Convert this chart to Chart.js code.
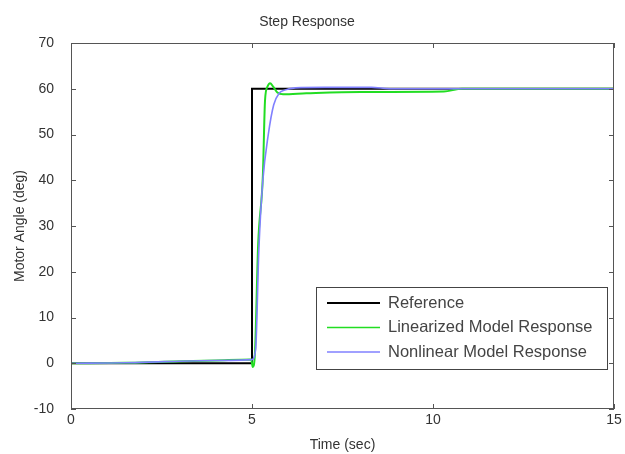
<!DOCTYPE html>
<html>
<head>
<meta charset="utf-8">
<script src="https://cdn.jsdelivr.net/npm/chart.js@4.4.1/dist/chart.umd.min.js"></script>
<style>
  body { margin: 0; background: #fff; }
  #wrap { width: 625px; height: 454px; position: relative; }
</style>
</head>
<body>
<div id="wrap"><canvas id="stepChart"></canvas></div>
<script>
// data
const refTime = [0, 5, 5, 15];
const refAngle = [0, 0, 60, 60];

const linTime = [0, 1.5, 2.6, 4.0, 4.98, 5.02, 5.08, 5.17, 5.3, 5.36, 5.43, 5.5, 5.58, 5.7, 5.86, 6.5, 8, 10.3, 10.8, 15];
const linAngle = [0, 0.1, 0.35, 0.6, 0.8, -0.8, 2, 26, 41, 57.5, 60.5, 61.2, 60.5, 59.2, 58.8, 59.0, 59.3, 59.4, 60, 60];

const nonTime = [0, 1.5, 2.6, 4.0, 5.0, 5.1, 5.19, 5.3, 5.45, 5.6, 5.75, 5.9, 6.2, 7, 8.3, 8.8, 15];
const nonAngle = [0, 0.1, 0.35, 0.6, 0.8, 3, 25, 40, 50, 56.5, 59.0, 59.7, 60.2, 60.3, 60.3, 60, 60];

const xTicks = [0, 5, 10, 15];
const yTicks = [-10, 0, 10, 20, 30, 40, 50, 60, 70];

const legendLabels = ['Reference', 'Linearized Model Response', 'Nonlinear Model Response'];
const lineColors = ['#000000', '#22dd22', '#8080ff'];

const toPoints = (xs, ys) => xs.map((x, i) => ({ x, y: ys[i] }));

const font = 'Liberation Sans, Arial, sans-serif';
const axisColor = '#555';

// matlab style box, inward ticks and legend inside the axes
const matlabBox = {
  id: 'matlabBox',
  afterDatasetsDraw(chart) {
    const { ctx, chartArea: a, scales: { x, y } } = chart;
    ctx.save();
    ctx.strokeStyle = axisColor;
    ctx.lineWidth = 1;
    ctx.strokeRect(a.left + 0.5, a.top + 0.5, a.right - a.left - 1, a.bottom - a.top - 1);
    ctx.beginPath();
    xTicks.forEach(v => {
      const px = Math.round(x.getPixelForValue(v)) + 0.5;
      ctx.moveTo(px, a.bottom); ctx.lineTo(px, a.bottom - 5);
      ctx.moveTo(px, a.top); ctx.lineTo(px, a.top + 5);
    });
    yTicks.forEach(v => {
      const py = Math.round(y.getPixelForValue(v)) + 0.5;
      ctx.moveTo(a.left, py); ctx.lineTo(a.left + 5, py);
      ctx.moveTo(a.right, py); ctx.lineTo(a.right - 5, py);
    });
    ctx.stroke();

    // legend
    const bx = 316, by = 287, bw = 291, bh = 82;
    ctx.fillStyle = '#fff';
    ctx.fillRect(bx, by, bw, bh);
    ctx.strokeStyle = '#444';
    ctx.strokeRect(bx + 0.5, by + 0.5, bw, bh);
    ctx.font = '16.5px ' + font;
    ctx.textBaseline = 'middle';
    legendLabels.forEach((label, i) => {
      const ly = by + 16 + i * 24.5;
      ctx.strokeStyle = lineColors[i];
      ctx.lineWidth = i === 0 ? 2 : 1.6;
      ctx.beginPath();
      ctx.moveTo(327, ly); ctx.lineTo(380, ly);
      ctx.stroke();
      ctx.fillStyle = '#444';
      ctx.fillText(label, 388, ly);
    });
    ctx.restore();
  }
};

new Chart(document.getElementById('stepChart'), {
  type: 'line',
  data: {
    datasets: [
      { label: legendLabels[0], data: toPoints(refTime, refAngle), borderColor: lineColors[0], borderWidth: 2, order: 3 },
      { label: legendLabels[1], data: toPoints(linTime, linAngle), borderColor: lineColors[1], borderWidth: 2, order: 2, cubicInterpolationMode: 'monotone' },
      { label: legendLabels[2], data: toPoints(nonTime, nonAngle), borderColor: lineColors[2], borderWidth: 1.6, order: 1, cubicInterpolationMode: 'monotone' }
    ]
  },
  options: {
    responsive: true,
    maintainAspectRatio: false,
    animation: false,
    layout: { padding: { left: 0, right: 11, top: 0, bottom: 0 } },
    elements: { point: { radius: 0 }, line: { tension: 0 } },
    plugins: {
      legend: { display: false },
      tooltip: { enabled: false },
      title: {
        display: true,
        text: 'Step Response',
        color: '#333',
        font: { family: font, size: 14, weight: 'normal', lineHeight: 1 },
        padding: { top: 15, bottom: 14 }
      }
    },
    scales: {
      x: {
        type: 'linear',
        min: 0, max: 15,
        afterBuildTicks: s => { s.ticks = xTicks.map(v => ({ value: v })); },
        afterFit: s => { s.height = 45; },
        grid: { display: false, drawTicks: false },
        border: { display: false },
        ticks: { color: '#333', padding: 3, maxRotation: 0, font: { family: font, size: 14 } },
        title: { display: true, text: 'Time (sec)', color: '#333', padding: { top: 5, bottom: 0 }, font: { family: font, size: 14 } }
      },
      y: {
        min: -10, max: 70,
        afterBuildTicks: s => { s.ticks = yTicks.map(v => ({ value: v })); },
        afterFit: s => { s.width = 71; },
        grid: { display: false, drawTicks: false },
        border: { display: false },
        ticks: { color: '#333', padding: 17, font: { family: font, size: 14 } },
        title: { display: true, text: 'Motor Angle (deg)', color: '#333', padding: { top: 12, bottom: 0 }, font: { family: font, size: 14 } }
      }
    }
  },
  plugins: [matlabBox]
});
</script>
</body>
</html>
